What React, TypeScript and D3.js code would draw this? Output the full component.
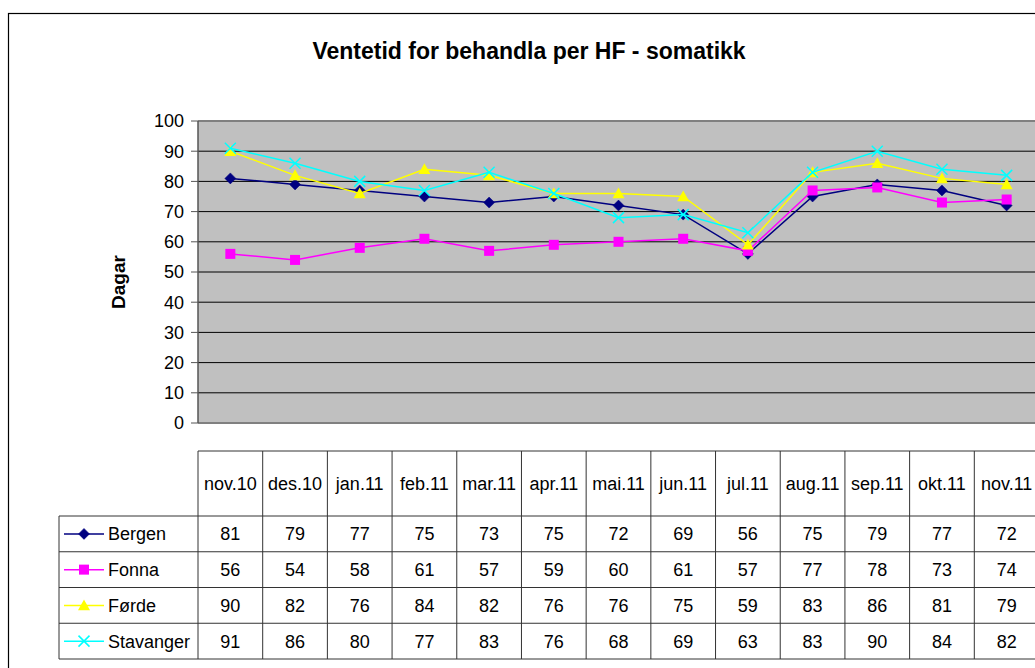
import React from "react";
import * as d3 from "d3";

const categories = ["nov.10", "des.10", "jan.11", "feb.11", "mar.11", "apr.11", "mai.11", "jun.11", "jul.11", "aug.11", "sep.11", "okt.11", "nov.11"];
const seriesNames = ["Bergen", "Fonna", "Førde", "Stavanger"];
const bergen = [81, 79, 77, 75, 73, 75, 72, 69, 56, 75, 79, 77, 72];
const fonna = [56, 54, 58, 61, 57, 59, 60, 61, 57, 77, 78, 73, 74];
const forde = [90, 82, 76, 84, 82, 76, 76, 75, 59, 83, 86, 81, 79];
const stavanger = [91, 86, 80, 77, 83, 76, 68, 69, 63, 83, 90, 84, 82];
const seriesValues = [bergen, fonna, forde, stavanger];
const seriesColors = ["#000080", "#FF00FF", "#FFFF00", "#00FFFF"];
const seriesMarkers = ["diamond", "square", "triangle", "x"];
const yTicks = [0, 10, 20, 30, 40, 50, 60, 70, 80, 90, 100];
const title = "Ventetid for behandla per HF - somatikk";
const yTitle = "Dagar";

const W = 1035, H = 668;
const plotL = 198, plotR = 1039, plotT = 121, plotB = 423;
const tableT = 451, headerB = 516, tableB = 659, legendL = 59;
const font = "'Liberation Sans', Arial, sans-serif";

function Marker({ type, x, y, color }: { type: string; x: number; y: number; color: string }) {
  if (type === "diamond") {
    const s = 5.5;
    return <path d={`M${x},${y - s}L${x + s},${y}L${x},${y + s}L${x - s},${y}Z`} fill={color} stroke={color} strokeWidth={0.5} />;
  }
  if (type === "square") {
    const s = 5;
    return <rect x={x - s} y={y - s} width={2 * s} height={2 * s} fill={color} />;
  }
  if (type === "triangle") {
    const s = 6;
    return <path d={`M${x},${y - s}L${x + s},${y + s * 0.8}L${x - s},${y + s * 0.8}Z`} fill={color} />;
  }
  const s = 5.5;
  return (
    <path d={`M${x - s},${y - s}L${x + s},${y + s}M${x - s},${y + s}L${x + s},${y - s}`} stroke={color} strokeWidth={1.5} fill="none" />
  );
}

export default function App() {
  const x = d3.scaleBand<string>().domain(categories).range([plotL, plotR]);
  const y = d3.scaleLinear().domain([0, 100]).range([plotB, plotT]);
  const bw = x.bandwidth();
  const cx = (c: string) => (x(c) as number) + bw / 2;
  const line = d3
    .line<number>()
    .x((_, i) => cx(categories[i]))
    .y((d) => y(d));
  const rowH = (tableB - headerB) / seriesNames.length;

  return (
    <svg width={W} height={H} style={{ position: "absolute", left: 0, top: 0 }} fontFamily={font}>
      <rect x={0} y={0} width={W} height={H} fill="#fff" />
      <rect x={8.5} y={13.5} width={W + 20} height={H + 20} fill="none" stroke="#000" strokeWidth={1.2} />
      <text x={529} y={59} textAnchor="middle" fontSize={23} fontWeight="bold">{title}</text>

      {/* plot area */}
      <rect x={plotL} y={plotT} width={plotR - plotL} height={plotB - plotT} fill="#C0C0C0" />
      {yTicks.map((t) => (
        <g key={t}>
          {t > 0 && t < 100 && <line x1={plotL} x2={plotR} y1={y(t)} y2={y(t)} stroke="#000" strokeWidth={1} />}
          <line x1={plotL - 7} x2={plotL} y1={y(t)} y2={y(t)} stroke="#555" strokeWidth={1} />
          <text x={184} y={y(t)} dy="0.36em" textAnchor="end" fontSize={18}>{t}</text>
        </g>
      ))}
      <line x1={plotL} x2={plotR} y1={plotT} y2={plotT} stroke="#808080" strokeWidth={2} />
      <line x1={plotL} x2={plotR} y1={plotB} y2={plotB} stroke="#808080" strokeWidth={2} />
      <line x1={plotL} x2={plotL} y1={plotT} y2={plotB} stroke="#555" strokeWidth={1.5} />
      <text transform={`translate(125,${(plotT + plotB) / 2 + 10}) rotate(-90)`} textAnchor="middle" fontSize={19} fontWeight="bold">{yTitle}</text>

      {seriesValues.map((vals, si) => (
        <g key={si}>
          <path d={line(vals) || ""} fill="none" stroke={seriesColors[si]} strokeWidth={1.5} />
          {vals.map((v, i) => (
            <Marker key={i} type={seriesMarkers[si]} x={cx(categories[i])} y={y(v)} color={seriesColors[si]} />
          ))}
        </g>
      ))}

      {/* data table */}
      <g stroke="#333" strokeWidth={1} fill="none">
        <line x1={plotL} x2={plotR} y1={tableT} y2={tableT} />
        <line x1={legendL} x2={plotR} y1={headerB} y2={headerB} />
        {seriesNames.map((_, si) => (
          <line key={si} x1={legendL} x2={plotR} y1={headerB + rowH * (si + 1)} y2={headerB + rowH * (si + 1)} />
        ))}
        <line x1={legendL} x2={legendL} y1={headerB} y2={tableB} />
        {categories.map((c) => (
          <line key={c} x1={x(c) as number} x2={x(c) as number} y1={tableT} y2={tableB} />
        ))}
        <line x1={plotR} x2={plotR} y1={tableT} y2={tableB} />
      </g>
      {categories.map((c) => (
        <text key={c} x={cx(c)} y={(tableT + headerB) / 2} dy="0.36em" textAnchor="middle" fontSize={18}>{c}</text>
      ))}
      {seriesNames.map((name, si) => {
        const ry = headerB + rowH * (si + 0.5);
        return (
          <g key={name}>
            <line x1={64} x2={104} y1={ry} y2={ry} stroke={seriesColors[si]} strokeWidth={1.5} />
            <Marker type={seriesMarkers[si]} x={84} y={ry} color={seriesColors[si]} />
            <text x={108} y={ry} dy="0.36em" fontSize={18}>{name}</text>
            {seriesValues[si].map((v, i) => (
              <text key={i} x={cx(categories[i])} y={ry} dy="0.36em" textAnchor="middle" fontSize={18}>{v}</text>
            ))}
          </g>
        );
      })}
    </svg>
  );
}
